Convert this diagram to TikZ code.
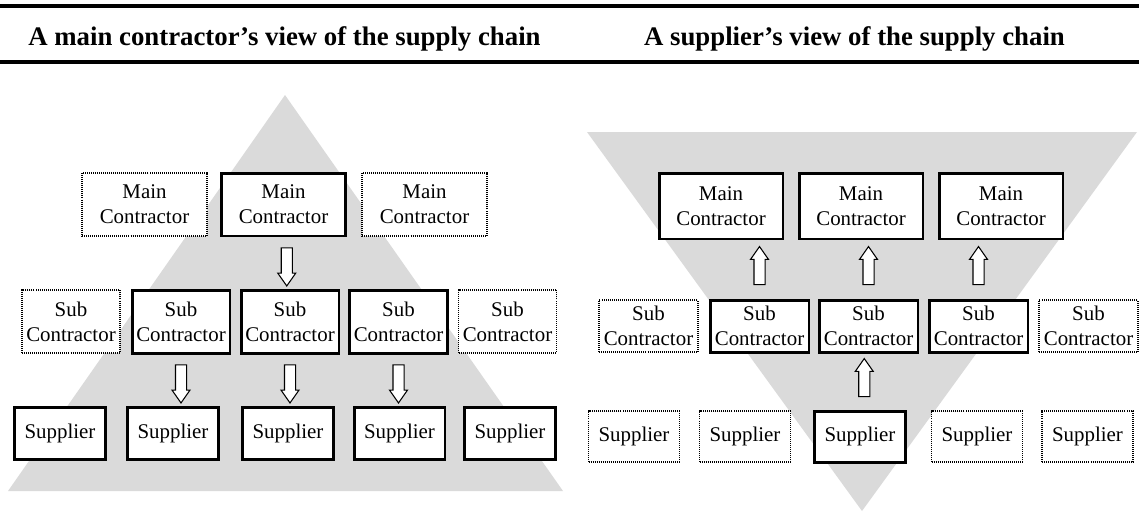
\documentclass[tikz,border=0pt]{standalone}
\usepackage{fontspec}
\setmainfont{Liberation Serif}
\usetikzlibrary{shapes.arrows,calc,positioning}
\definecolor{trigray}{RGB}{218,218,218}
\newcommand\boxfont{\fontsize{11.9}{14.2}\selectfont}
\newcommand\headfont{\fontsize{15.25}{18}\selectfont\bfseries}
\tikzset{
  solidbox/.style={draw, line width=1.7pt, fill=white, align=center, inner sep=0pt, font=\boxfont},
  dotbox/.style={draw, line width=0.6pt, dash pattern=on 0.55pt off 0.6pt, fill=white, align=center, inner sep=0pt, font=\boxfont},
  blockarrow/.style={single arrow, draw, fill=white, line width=0.6pt, minimum height=0.76cm, minimum width=0pt, inner xsep=0pt, inner ysep=0.1cm, single arrow head extend=0.07cm, single arrow tip angle=70},
  heading/.style={font=\headfont, anchor=base}
}
\begin{document}
\begin{tikzpicture}[x=0.02cm, y=-0.02cm]
  \useasboundingbox (0,0) rectangle (1139,512);

  %% header rules and titles
  \draw[line width=2pt] (0,6) -- (1139,6);
  \draw[line width=2pt] (0,62) -- (1139,62);
  \node[heading] (ltitle) at (284.5,45.7) {A main contractor’s view of the supply chain};
  \node[heading] (rtitle) at (854.5,45.7) {A supplier’s view of the supply chain};

  %% background triangles
  \fill[trigray] (8,491) -- (563,491) -- (285,95) -- cycle;
  \fill[trigray] (587,132) -- (1137,132) -- (862,511) -- cycle;

  %% main contractor's view
  \node[dotbox, minimum width=2.5cm, minimum height=1.26cm]   (lm1) at (144.5,204.5) {Main\\Contractor};
  \node[solidbox, minimum width=2.5cm, minimum height=1.26cm] (lm2) at (283.5,204.5) {Main\\Contractor};
  \node[dotbox, minimum width=2.5cm, minimum height=1.26cm]   (lm3) at (424.5,204.5) {Main\\Contractor};

  \node[dotbox, minimum width=1.96cm, minimum height=1.26cm]   (ls1) at (71,321.5)  {Sub\\Contractor};
  \node[solidbox, minimum width=1.96cm, minimum height=1.26cm] (ls2) at (181,321.5) {Sub\\Contractor};
  \node[solidbox, minimum width=1.96cm, minimum height=1.26cm] (ls3) at (290,321.5) {Sub\\Contractor};
  \node[solidbox, minimum width=1.96cm, minimum height=1.26cm] (ls4) at (398.5,321.5) {Sub\\Contractor};
  \node[dotbox, minimum width=1.96cm, minimum height=1.26cm]   (ls5) at (507.5,321.5) {Sub\\Contractor};

  \node[solidbox, minimum width=1.82cm, minimum height=1.04cm] (lp1) at (60,433)    {Supplier};
  \node[solidbox, minimum width=1.82cm, minimum height=1.04cm] (lp2) at (173,433)   {Supplier};
  \node[solidbox, minimum width=1.82cm, minimum height=1.04cm] (lp3) at (288,433)   {Supplier};
  \node[solidbox, minimum width=1.82cm, minimum height=1.04cm] (lp4) at (399.5,433) {Supplier};
  \node[solidbox, minimum width=1.82cm, minimum height=1.04cm] (lp5) at (510,433)   {Supplier};

  \node[blockarrow, rotate=-90] (la1) at ($(lm2.south)!0.5!(ls3.north)$) {};
  \node[blockarrow, rotate=-90] (la2) at ($(ls2.south)!0.5!(ls2.south |- lp2.north)$) {};
  \node[blockarrow, rotate=-90] (la3) at ($(ls3.south)!0.5!(ls3.south |- lp3.north)$) {};
  \node[blockarrow, rotate=-90] (la4) at ($(ls4.south)!0.5!(ls4.south |- lp4.north)$) {};

  %% supplier's view
  \node[solidbox, minimum width=2.48cm, minimum height=1.32cm] (rm1) at (721,206)  {Main\\Contractor};
  \node[solidbox, minimum width=2.48cm, minimum height=1.32cm] (rm2) at (861,206)  {Main\\Contractor};
  \node[solidbox, minimum width=2.48cm, minimum height=1.32cm] (rm3) at (1001,206) {Main\\Contractor};

  \node[dotbox, minimum width=1.98cm, minimum height=1.04cm]   (rs1) at (648.5,326)  {Sub\\Contractor};
  \node[solidbox, minimum width=1.98cm, minimum height=1.04cm] (rs2) at (759.5,326)  {Sub\\Contractor};
  \node[solidbox, minimum width=1.98cm, minimum height=1.04cm] (rs3) at (868.5,326)  {Sub\\Contractor};
  \node[solidbox, minimum width=1.98cm, minimum height=1.04cm] (rs4) at (978.5,326)  {Sub\\Contractor};
  \node[dotbox, minimum width=1.98cm, minimum height=1.04cm]   (rs5) at (1088.5,326) {Sub\\Contractor};

  \node[dotbox, minimum width=1.82cm, minimum height=1.02cm]   (rp1) at (634,436.5)    {Supplier};
  \node[dotbox, minimum width=1.82cm, minimum height=1.02cm]   (rp2) at (745,436.5)    {Supplier};
  \node[solidbox, minimum width=1.82cm, minimum height=1.02cm] (rp3) at (860,436.5)    {Supplier};
  \node[dotbox, minimum width=1.82cm, minimum height=1.02cm]   (rp4) at (977,436.5)    {Supplier};
  \node[dotbox, minimum width=1.82cm, minimum height=1.02cm]   (rp5) at (1087.5,436.5) {Supplier};

  \node[blockarrow, rotate=90] (ra1) at ($(rs2.north)!0.5!(rs2.north |- rm1.south)$) {};
  \node[blockarrow, rotate=90] (ra2) at ($(rs3.north)!0.5!(rs3.north |- rm2.south)$) {};
  \node[blockarrow, rotate=90] (ra3) at ($(rs4.north)!0.5!(rs4.north |- rm3.south)$) {};
  \node[blockarrow, rotate=90] (ra4) at ($(rp3.north)!0.5!(rs3.south)$) {};
\end{tikzpicture}
\end{document}
